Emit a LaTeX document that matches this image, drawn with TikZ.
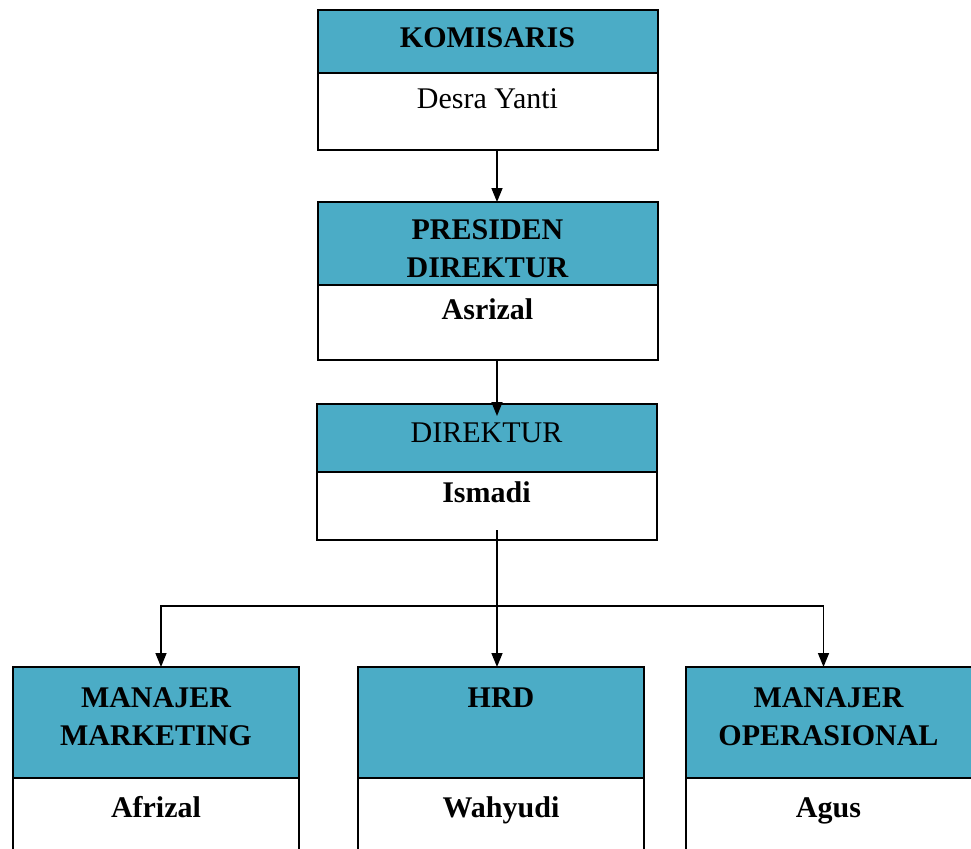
\documentclass[tikz,border=0pt]{standalone}
\usepackage{fontspec}
\setmainfont{Liberation Serif}
\usetikzlibrary{arrows.meta, positioning}
\definecolor{HeadTeal}{RGB}{75, 172, 198}

\begin{document}
\begin{tikzpicture}[
            x=0.5pt, y=-0.5pt,
            head/.style={rectangle, draw=black, line width=1pt, fill=HeadTeal,
                         outer sep=0pt, minimum width=170pt},
            body/.style={rectangle, draw=black, line width=1pt, fill=white,
                         outer sep=0pt, minimum width=170pt},
            title/.style={anchor=base, align=center, inner sep=0pt,
                          font=\fontsize{15}{19}\selectfont\bfseries},
            person/.style={anchor=base, inner sep=0pt,
                           font=\fontsize{15}{19}\selectfont\bfseries},
            arrow/.style={-{Triangle[length=7pt, width=5.5pt]}, line width=0.75pt}
        ]
            \useasboundingbox (0,0) rectangle (971,848);
            \clip (0,0) rectangle (971,848);
            \coordinate (spine) at (497,0);

            % Top column
            \node[head, minimum height=31.5pt] (komH) at (487.5,41.5) {};
            \node[body, minimum height=38.5pt, below=0pt of komH] (komB) {};
            \node[head, minimum height=41.5pt] (preH) at (487.5,243.5) {};
            \node[body, minimum height=37.5pt, below=0pt of preH] (preB) {};
            \node[head, minimum height=34pt] (dirH) at (486.5,438) {};
            \node[body, minimum height=34pt, below=0pt of dirH] (dirB) {};

            \node[title] (komT) at (487.5,47) {KOMISARIS};
            \node[person, font=\fontsize{15}{19}\selectfont] (komP) at (487.5,108) {Desra Yanti};
            \node[title] (preT) at (487.5,277) {PRESIDEN\\DIREKTUR};
            \node[person] (preP) at (487.5,319) {Asrizal};
            \node[title, font=\fontsize{15}{19}\selectfont] (dirT) at (486.5,442) {DIREKTUR};
            \node[person] (dirP) at (486.5,502) {Ismadi};

            % Bottom row
            \node[head, minimum width=143pt, minimum height=55.5pt] (mmH) at (156,722.5) {};
            \node[body, minimum width=143pt, minimum height=61pt, below=0pt of mmH] (mmB) {};
            \node[head, minimum width=143pt, minimum height=55.5pt] (hrdH) at (501,722.5) {};
            \node[body, minimum width=143pt, minimum height=61pt, below=0pt of hrdH] (hrdB) {};
            \node[head, minimum width=143pt, minimum height=55.5pt] (opsH) at (828.5,722.5) {};
            \node[body, minimum width=143pt, minimum height=61pt, below=0pt of opsH] (opsB) {};

            \node[title] (mmT) at (156,745) {MANAJER\\MARKETING};
            \node[title] (hrdT) at (501,707) {HRD};
            \node[title] (opsT) at (828.5,745) {MANAJER\\OPERASIONAL};
            \node[person] (mmP) at (156,817) {Afrizal};
            \node[person] (hrdP) at (501,817) {Wahyudi};
            \node[person] (opsP) at (828.5,817) {Agus};

            % Arrows
            \draw[arrow] (komB.south -| spine) -- (preH.north -| spine);
            \draw[arrow] (preB.south -| spine) -- ([yshift=-6pt]dirH.north -| spine);
            \coordinate (split) at (497,606);
            \draw[line width=0.75pt] ([yshift=5pt]dirB.south -| spine) -- (split);
            \draw[arrow] (split) -| ([xshift=2.5pt]mmH.north);
            \draw[arrow] (split) -- (hrdH.north -| split);
            \draw[arrow] (split) -| ([xshift=-2.5pt]opsH.north);
        \end{tikzpicture}
\end{document}
